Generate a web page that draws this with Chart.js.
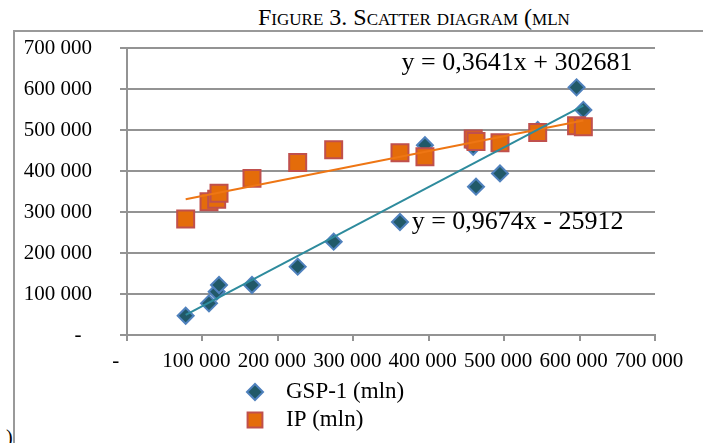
<!DOCTYPE html>
<html>
<head>
<meta charset="utf-8">
<title>Scatter diagram</title>
<script src="https://cdn.jsdelivr.net/npm/chart.js@4.4.0/dist/chart.umd.min.js"></script>
<style>
  body { margin: 0; background: #fff; }
  #wrap { position: relative; width: 703px; height: 443px; overflow: hidden; font-family: 'Liberation Serif', 'Times New Roman', serif; color: #000; }
  #frame { position: absolute; left: 13px; top: 30px; width: 800px; height: 500px; border-left: 2px solid #999; border-top: 2px solid #999; }
  #title { position: absolute; left: 258px; top: 5px; font-size: 24px; line-height: 24px; font-variant: small-caps; white-space: nowrap; }
  #stub { position: absolute; left: 6px; top: 427px; font-size: 20px; line-height: 20px; }
  #chart { position: absolute; left: 0; top: 0; }
</style>
</head>
<body>
<div id="wrap">
  <div id="frame"></div>
  <div id="title">Figure 3. Scatter diagram (mln</div>
  <div id="stub">)</div>
  <canvas id="chart" width="703" height="443"></canvas>
</div>
<script>
// values
const xValues = [77800, 108700, 118900, 122000, 165700, 226300, 274000, 361900, 395000, 459000, 462700, 494500, 544500, 596000, 605000];
const gspValues = [47000, 77200, 105600, 122000, 122000, 166700, 227600, 275600, 463000, 459000, 361700, 394000, 500000, 604000, 549000];
const ipValues = [283000, 325000, 331000, 345600, 382000, 421000, 452000, 444700, 435000, 478000, 472000, 469000, 494000, 510500, 508000];
const seriesNames = ['GSP-1 (mln)', 'IP (mln)'];
const trendSlopes = [0.9674, 0.3641];
const trendIntercepts = [-25912, 302681];
const trendTexts = ['y = 0,9674x - 25912', 'y = 0,3641x + 302681'];
const axisTicks = [0, 100000, 200000, 300000, 400000, 500000, 600000, 700000];

const fontFamily = "'Liberation Serif', 'Times New Roman', serif";
const gridColor = '#939393';
const gspFill = '#215968';
const gspBorder = '#4f81bd';
const ipFill = '#e46c0a';
const ipBorder = '#c0504d';
const trendColors = ['#2e8b9d', '#ee7614'];

function toPoints(ys) {
    return xValues.map(function (x, i) { return { x: x, y: ys[i] }; });
}

function trendPoints(k) {
    const xMin = Math.min.apply(null, xValues);
    const xMax = Math.max.apply(null, xValues);
    return [xMin, xMax].map(function (x) {
        return { x: x, y: trendSlopes[k] * x + trendIntercepts[k] };
    });
}

function fmt(v) {
    if (v === 0) return '-  ';
    return String(v).replace(/\B(?=(\d{3})+(?!\d))/g, ' ');
}

// equation texts, anchored in data units
const equationPlugin = {
    id: 'equations',
    afterDatasetsDraw: function (chart, args, opts) {
        const ctx = chart.ctx;
        const xs = chart.scales.x, ys = chart.scales.y;
        ctx.save();
        ctx.font = '26px ' + fontFamily;
        ctx.fillStyle = '#000';
        ctx.textAlign = 'left';
        ctx.textBaseline = 'middle';
        opts.anchors.forEach(function (a, k) {
            ctx.fillText(trendTexts[k], xs.getPixelForValue(a[0]), ys.getPixelForValue(a[1]));
        });
        ctx.restore();
    }
};

// stacked legend under the x axis
const legendPlugin = {
    id: 'stackLegend',
    afterDraw: function (chart, args, opts) {
        const ctx = chart.ctx;
        ctx.save();
        ctx.font = '23px ' + fontFamily;
        ctx.textBaseline = 'middle';
        ctx.textAlign = 'left';
        opts.items.forEach(function (it, k) {
            const ds = chart.data.datasets[k];
            const y = opts.top + k * opts.rowHeight;
            ctx.fillStyle = ds.backgroundColor;
            ctx.strokeStyle = ds.borderColor;
            ctx.lineWidth = 2;
            Chart.helpers.drawPoint(ctx, { pointStyle: ds.pointStyle, radius: it.radius, rotation: 0, borderWidth: 2 }, opts.left, y);
            ctx.fillStyle = '#000';
            ctx.fillText(seriesNames[k], opts.left + 31, y);
        });
        ctx.restore();
    }
};

new Chart(document.getElementById('chart'), {
    type: 'scatter',
    data: {
        datasets: [
            {
                label: seriesNames[0],
                data: toPoints(gspValues),
                pointStyle: 'rectRot',
                pointRadius: 8,
                backgroundColor: gspFill,
                borderColor: gspBorder,
                borderWidth: 2,
                order: 2
            },
            {
                label: seriesNames[1],
                data: toPoints(ipValues),
                pointStyle: 'rect',
                pointRadius: 12,
                backgroundColor: ipFill,
                borderColor: ipBorder,
                borderWidth: 2,
                order: 1
            },
            {
                label: 'trend GSP',
                data: trendPoints(0),
                showLine: true,
                pointRadius: 0,
                borderColor: trendColors[0],
                borderWidth: 2,
                order: 0
            },
            {
                label: 'trend IP',
                data: trendPoints(1),
                showLine: true,
                pointRadius: 0,
                borderColor: trendColors[1],
                borderWidth: 2,
                order: 0
            }
        ]
    },
    options: {
        responsive: false,
        animation: false,
        events: [],
        layout: { padding: { left: 0, right: 48, top: 48, bottom: 0 } },
        plugins: {
            legend: { display: false },
            tooltip: { enabled: false },
            equations: { anchors: [[377400, 276300], [364000, 663000]] },
            stackLegend: { left: 255, top: 392, rowHeight: 28, items: [{ radius: 8 }, { radius: 10.5 }] }
        },
        scales: {
            x: {
                type: 'linear',
                min: 0,
                max: 700000,
                afterBuildTicks: function (s) { s.ticks = axisTicks.map(function (v) { return { value: v }; }); },
                afterFit: function (s) { s.height = 108; },
                ticks: {
                    callback: fmt,
                    color: '#000',
                    font: { family: fontFamily, size: 21 },
                    padding: 8,
                    labelOffset: -6,
                    autoSkip: false,
                    maxRotation: 0
                },
                grid: { drawOnChartArea: false, tickLength: 6, color: gridColor, lineWidth: 2 },
                border: { color: gridColor, width: 2 }
            },
            y: {
                min: 0,
                max: 700000,
                afterBuildTicks: function (s) { s.ticks = axisTicks.map(function (v) { return { value: v }; }); },
                afterFit: function (s) { s.width = 127; },
                ticks: {
                    callback: fmt,
                    color: '#000',
                    font: { family: fontFamily, size: 21 },
                    padding: 28
                },
                grid: { tickLength: 7, color: gridColor, lineWidth: 2 },
                border: { color: gridColor, width: 2 }
            }
        }
    },
    plugins: [equationPlugin, legendPlugin]
});
</script>
</body>
</html>
